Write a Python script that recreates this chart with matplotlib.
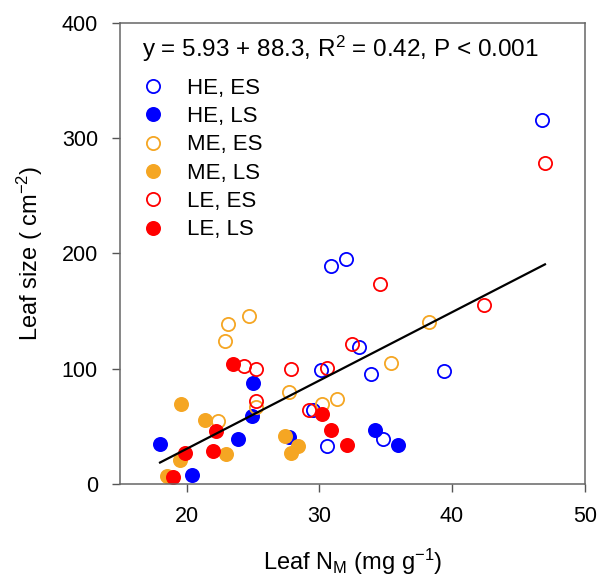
import numpy as np
import matplotlib
matplotlib.use("Agg")
import matplotlib.pyplot as plt
from matplotlib.lines import Line2D

plt.rcParams["font.family"] = ["Liberation Sans", "DejaVu Sans"]
plt.rcParams["mathtext.default"] = "regular"

# Leaf N (mg/g) and leaf size for each group
he_es_x = [30.9, 32.0, 46.8, 30.1, 33.0, 33.9, 39.4, 29.5, 34.8, 30.6]
he_es_y = [188.6, 195.0, 315.8, 98.6, 119.1, 95.4, 98.3, 63.6, 39.0, 32.4]

he_ls_x = [25.0, 24.9, 23.9, 18.0, 20.4, 27.7, 34.2, 35.9]
he_ls_y = [87.6, 58.4, 39.0, 34.4, 7.5, 41.0, 46.3, 33.8]

me_es_x = [23.1, 24.7, 22.9, 27.7, 25.2, 22.4, 30.2, 31.3, 38.3, 35.4]
me_es_y = [138.8, 145.2, 123.5, 79.6, 66.5, 54.9, 69.0, 73.5, 140.8, 104.7]

me_ls_x = [19.6, 21.4, 19.5, 23.0, 18.5, 27.4, 28.4, 27.9]
me_ls_y = [69.4, 55.5, 20.8, 26.0, 6.4, 41.9, 33.0, 26.6]

le_es_x = [24.3, 25.2, 27.9, 30.6, 32.5, 25.2, 29.2, 34.6, 47.0, 42.4]
le_es_y = [102.4, 99.5, 99.5, 100.9, 121.2, 72.0, 63.6, 173.3, 278.3, 155.3]

le_ls_x = [23.5, 22.2, 19.9, 22.0, 19.0, 30.2, 30.9, 32.1]
le_ls_y = [104.1, 45.4, 26.6, 28.6, 5.8, 60.5, 46.9, 33.5]

# fitted line: y = 5.93 x - 88.3
slope = 5.93
intercept = -88.3
fit_x = [18.0, 47.0]

blue = "#0000FF"
orange = "#F5A623"
red = "#FF0000"

fig = plt.figure(figsize=(6.01, 5.85), dpi=100)
ax = fig.add_axes([0.2, 0.173, 0.773, 0.788])

ms = 9.5
groups = [
    (he_es_x, he_es_y, blue, False, "HE, ES"),
    (he_ls_x, he_ls_y, blue, True, "HE, LS"),
    (me_es_x, me_es_y, orange, False, "ME, ES"),
    (me_ls_x, me_ls_y, orange, True, "ME, LS"),
    (le_es_x, le_es_y, red, False, "LE, ES"),
    (le_ls_x, le_ls_y, red, True, "LE, LS"),
]
handles = []
for gx, gy, c, filled, lab in groups:
    fc = c if filled else "none"
    ax.plot(gx, gy, "o", ms=ms, mfc=fc, mec=c, mew=1.3, ls="none")
    handles.append(Line2D([], [], marker="o", ls="none", ms=ms, mfc=fc, mec=c, mew=1.3, label=lab))

fx = np.array(fit_x)
ax.plot(fx, slope * fx + intercept, color="black", lw=1.6)

ax.text(0.048, 0.943, "y = 5.93 + 88.3, R$^2$ = 0.42, P < 0.001", transform=ax.transAxes,
        fontsize=17.5, va="center", ha="left")

ax.legend(handles=handles, loc="upper left", bbox_to_anchor=(0.015, 0.9), frameon=False,
          fontsize=16, handletextpad=0.8, labelspacing=0.33, borderaxespad=0, handlelength=1.5)

ax.set_xlim(15, 50)
ax.set_ylim(0, 400)
ax.set_xticks([20, 30, 40, 50])
ax.set_yticks([0, 100, 200, 300, 400])
ax.tick_params(axis="both", direction="out", length=6, width=1, color="#555555",
               labelsize=15.5, pad=10)
for s in ax.spines.values():
    s.set_color("#666666")
    s.set_linewidth(1.1)

ax.set_xlabel("Leaf N$_M$ (mg g$^{-1}$)", fontsize=17, labelpad=14)
ax.set_ylabel("Leaf size ( cm$^{-2}$)", fontsize=17, labelpad=12)

fig.savefig("out.png", dpi=100)
